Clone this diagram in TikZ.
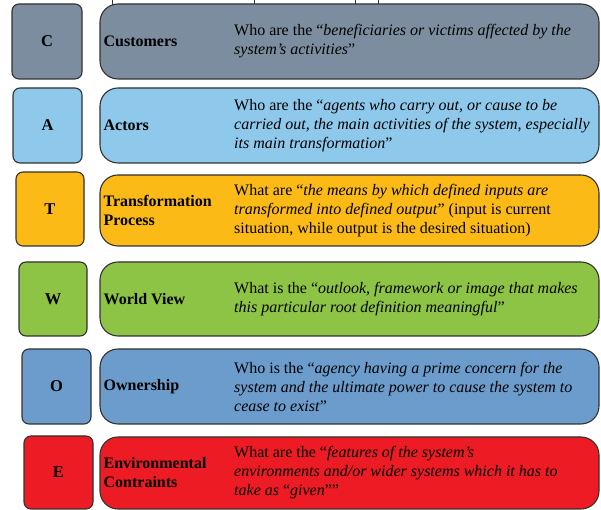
\documentclass[tikz,border=0pt]{standalone}
\usepackage{fontspec}
\setmainfont{Liberation Serif}[BoldFont=* Bold, ItalicFont=* Italic, BoldItalicFont=* Bold Italic]
\definecolor{cC}{RGB}{123,141,158}
\definecolor{cA}{RGB}{142,200,235}
\definecolor{cT}{RGB}{251,186,22}
\definecolor{cW}{RGB}{141,196,69}
\definecolor{cO}{RGB}{108,156,204}
\definecolor{cE}{RGB}{237,28,36}
\definecolor{linec}{RGB}{50,50,50}
\begin{document}
\begin{tikzpicture}[x=1pt,y=1pt,
  letterbox/.style={draw=linec, line width=1.1pt, rounded corners=7pt, inner sep=0pt,
    font=\fontsize{16.5}{19}\selectfont\bfseries},
  rowbox/.style={draw=linec, line width=1.1pt, rounded corners=18pt, inner sep=0pt,
    minimum width=499},
  lab/.style={anchor=west, align=left, inner sep=0pt,
    font=\fontsize{16}{19}\selectfont\bfseries},
  desc/.style={anchor=west, align=left, inner sep=0pt,
    font=\fontsize{16}{19}\selectfont}]
\useasboundingbox (0,0) rectangle (601,510);
% cropped fragments of a table above the figure
\foreach \xx in {112,254,355,378} \draw[linec, line width=0.9pt] (\xx,510) -- (\xx,505);

% C
\node[letterbox, fill=cC, minimum width=70, minimum height=75] (lc) at (47,468.5) {C};
\node[rowbox, fill=cC, minimum height=75] (rc) at (349.5,468.5) {};
\node[lab] (labc) at ([xshift=4]rc.west) {Customers};
\node[desc] (desc) at (234,468.5) {Who are the “\emph{beneficiaries or victims affected by the}\\\emph{system’s activities}”};

% A
\node[letterbox, fill=cA, minimum width=69, minimum height=75] (la) at (47.5,384.5) {A};
\node[rowbox, fill=cA, minimum height=75] (ra) at (349.5,384.5) {};
\node[lab] (laba) at ([xshift=4]ra.west) {Actors};
\node[desc] (desa) at (234,384.5) {Who are the “\emph{agents who carry out, or cause to be}\\\emph{carried out, the main activities of the system, especially}\\\emph{its main transformation}”};

% T
\node[letterbox, fill=cT, minimum width=68, minimum height=74] (lt) at (50,301) {T};
\node[rowbox, fill=cT, minimum height=71] (rt) at (349.5,299.5) {};
\node[lab] (labt) at ([xshift=4]rt.west) {Transformation\\Process};
\node[desc] (dest) at (234,299.5) {What are “\emph{the means by which defined inputs are}\\\emph{transformed into defined output}” (input is current\\situation, while output is the desired situation)};

% W
\node[letterbox, fill=cW, minimum width=68, minimum height=74] (lw) at (53,211) {W};
\node[rowbox, fill=cW, minimum height=74] (rw) at (349.5,211) {};
\node[lab] (labw) at ([xshift=4]rw.west) {World View};
\node[desc] (desw) at (234,211) {What is the “\emph{outlook, framework or image that makes}\\\emph{this particular root definition meaningful}”};

% O
\node[letterbox, fill=cO, minimum width=69, minimum height=75] (lo) at (56.5,123.5) {O};
\node[rowbox, fill=cO, minimum height=75] (ro) at (349.5,123.5) {};
\node[lab] (labo) at ([xshift=4]ro.west) {Ownership};
\node[desc] (deso) at (234,123.5) {Who is the “\emph{agency having a prime concern for the}\\\emph{system and the ultimate power to cause the system to}\\\emph{cease to exist}”};

% E
\node[letterbox, fill=cE, minimum width=69, minimum height=73] (le) at (58.5,37.5) {E};
\node[rowbox, fill=cE, minimum height=72] (re) at (349.5,37) {};
\node[lab] (labe) at ([xshift=4]re.west) {Environmental\\Contraints};
\node[desc] (dese) at (234,37) {What are the “\emph{features of the system’s}\\\emph{environments and/or wider systems which it has to}\\\emph{take as} “\emph{given}””};
\end{tikzpicture}
\end{document}
